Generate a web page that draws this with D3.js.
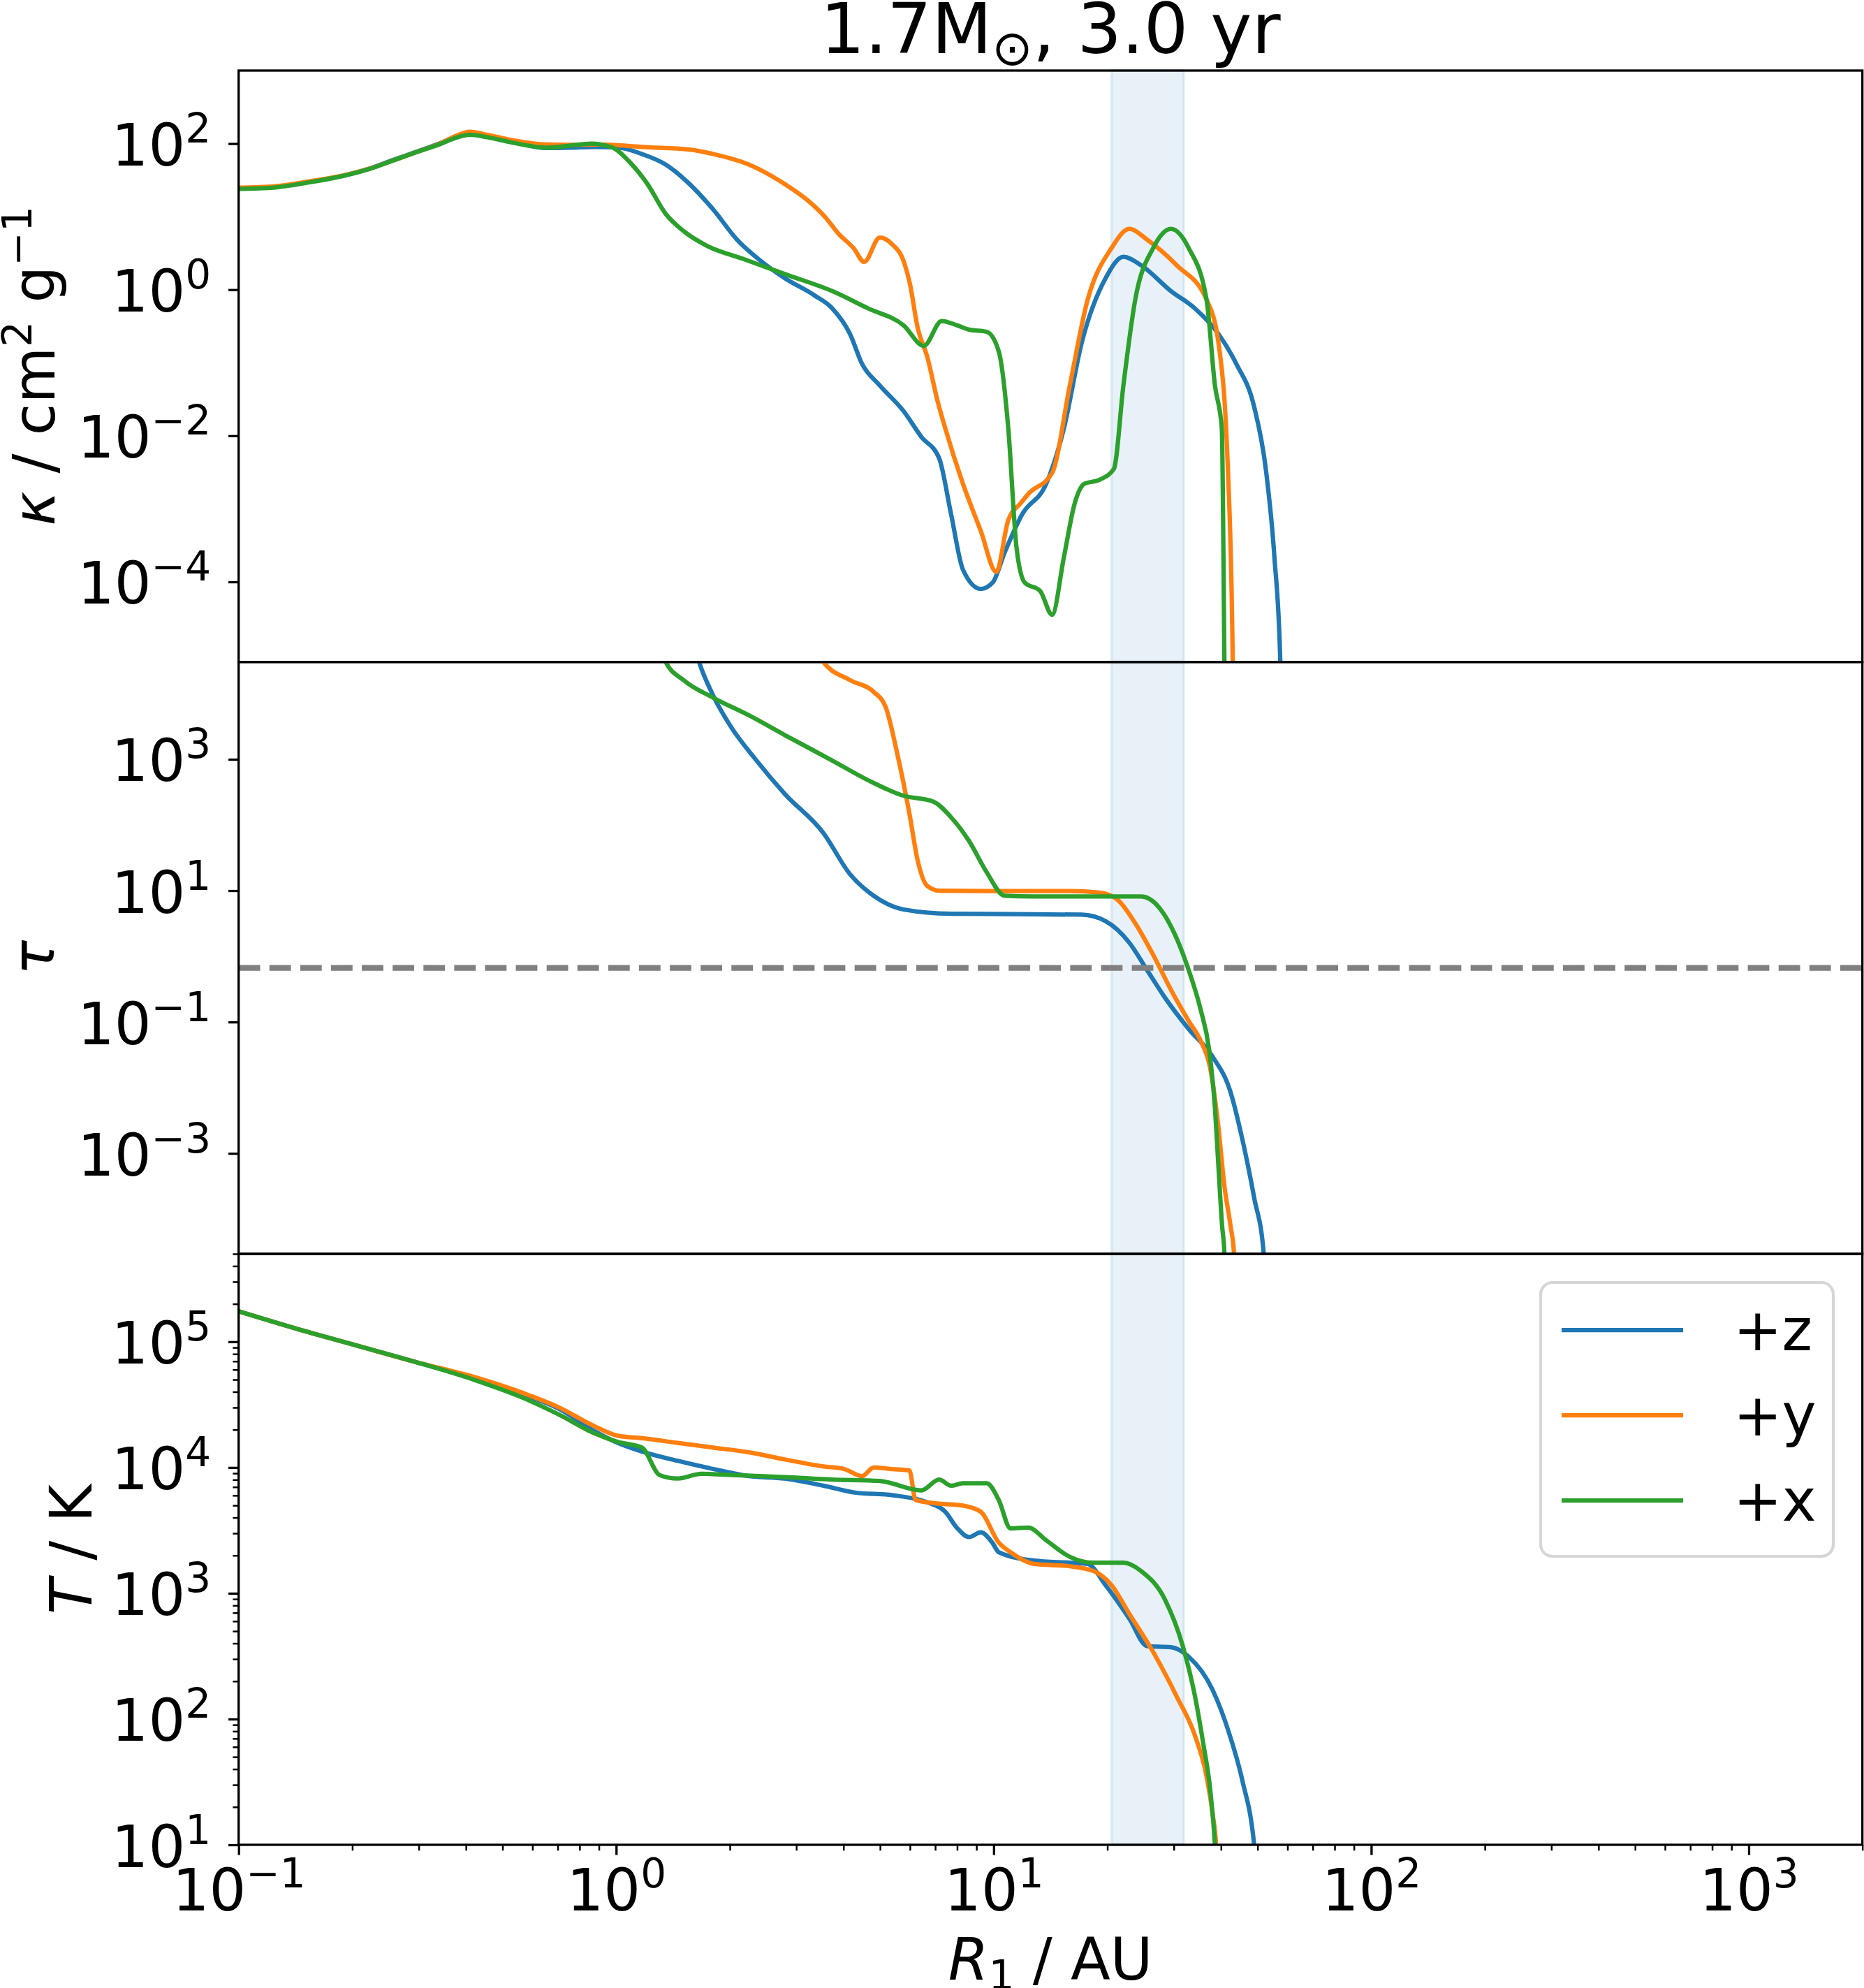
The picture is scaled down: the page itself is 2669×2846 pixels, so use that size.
<!DOCTYPE html>
<html>
<head>
<meta charset="utf-8">
<script src="https://cdn.jsdelivr.net/npm/d3@7"></script>
<style>
  body { margin: 0; background: #fff; }
  svg text { font-family: "DejaVu Sans", sans-serif; fill: #000; }
</style>
</head>
<body>
<svg id="chart" width="2669" height="2846"></svg>
<script>
// ---- data: [R (AU), value] ----
const seriesNames = ["+z", "+y", "+x"];
const seriesColors = ["#1f77b4", "#ff7f0e", "#2ca02c"];

// opacity kappa
const kapZ = [[0.1,24.5],[0.124,25.5],[0.154,30],[0.191,36.8],[0.221,45],[0.255,59],[0.295,77],[0.341,101],[0.38,127],[0.409,136],[0.456,125],[0.527,106],[0.655,87],[0.758,88],[0.876,90],[1.01,88.5],[1.17,72],[1.353,51.6],[1.564,28],[1.808,12.5],[2.09,4.84],[2.417,2.47],[2.794,1.44],[3.35,0.837],[3.734,0.557],[4.163,0.248],[4.48,0.0964],[4.99,0.049],[5.77,0.0218],[6.43,0.00968],[7.17,0.00492],[7.71,0.00085],[8.29,1.47e-4],[9.24,8.0e-5],[9.94,9.8e-5],[10.69,2.52e-4],[11.91,8.5e-4],[13.77,0.00219],[15.35,0.0127],[17.11,0.189],[19.79,1.44],[22.06,2.82],[24.59,2.15],[29.48,0.957],[34.07,0.557],[39.38,0.248],[43.92,0.0964],[48.97,0.0249],[52.66,0.00328],[55.4,2.2e-4],[57.44,8e-6],[58,1e-6]];
const kapY = [[0.1,25],[0.124,26],[0.154,30.5],[0.191,37],[0.221,45],[0.255,58],[0.295,76],[0.341,100],[0.38,130],[0.409,145],[0.456,132],[0.527,112],[0.655,97],[0.758,96],[0.876,97],[1.01,95],[1.17,90],[1.564,83],[1.808,72],[2.248,51.6],[2.794,28],[3.23,16.4],[3.6,9.5],[3.87,5.93],[4.256,3.7],[4.54,2.4],[4.99,5.18],[5.37,4.23],[5.8,2.3],[6.0,1.2],[6.29,0.3],[6.67,0.12],[7.1,0.03],[7.44,0.0127],[8.29,0.0022],[9.24,5e-4],[10.16,1.37e-4],[10.93,7e-4],[11.8,0.0012],[12.35,0.0016],[14.28,0.0031],[15.91,0.049],[17.74,0.731],[20.51,3.7],[22.87,6.8],[25.5,4.84],[30.57,2.15],[36.63,0.731],[39.38,0.189],[41.74,0.00328],[42.97,8e-6],[43.1,1e-6]];
const kapX = [[0.1,24],[0.124,25],[0.154,29.5],[0.191,36.5],[0.221,44.5],[0.255,58],[0.295,76],[0.341,98],[0.38,122],[0.409,132],[0.456,122],[0.527,104],[0.655,88],[0.758,94],[0.857,100],[0.976,88.5],[1.089,55],[1.21,28],[1.353,10.9],[1.508,6.35],[1.744,3.96],[2.17,2.64],[2.794,1.64],[3.734,0.957],[4.64,0.557],[5.77,0.325],[6.53,0.17],[7.28,0.372],[8.0,0.325],[8.6,0.284],[9.58,0.265],[10.31,0.144],[10.93,0.0127],[11.49,3e-4],[12.08,9.8e-5],[13.28,7.5e-5],[14.28,3.55e-5],[15.35,2.2e-4],[16.4,0.0012],[17.36,0.00219],[19.08,0.0025],[20.81,0.00351],[22.06,0.049],[23.71,0.731],[26.44,3.7],[29.48,6.8],[32.86,3.7],[36.63,0.731],[38.55,0.049],[40.2,0.0127],[40.84,8e-6],[41.0,1e-6]];

// optical depth tau
const tauZ = [[1.6,6e4],[1.658,30270],[1.808,9270],[2.016,3090],[2.33,1028],[2.794,299],[3.54,75.4],[4.163,17.8],[4.81,8.36],[5.77,5.17],[7.71,4.45],[11.08,4.4],[17.11,4.3],[19.79,3.42],[22.87,1.61],[25.5,0.614],[28.43,0.234],[32.86,0.0781],[37.99,0.0298],[42.37,0.00866],[45.54,0.00166],[48.97,2.11e-4],[51.9,3e-5],[52.5,1e-6]];
const tauY = [[3.4,6e4],[3.54,30300],[4.163,16070],[4.81,10640],[5.18,6140],[5.56,1180],[5.98,150],[6.29,28.8],[6.67,11.8],[7.17,10],[9.58,9.86],[15.91,9.86],[19.08,9.33],[21.28,7.29],[23.71,3.19],[26.44,1.06],[29.48,0.309],[32.86,0.1028],[35.33,0.0517],[37.45,0.0198],[39.38,0.00251],[40.84,3.19e-4],[42.37,8.07e-5],[43.3,3e-5],[43.6,1e-6]];
const tauX = [[1.3,6e4],[1.353,30270],[1.508,16070],[1.808,8650],[2.248,4665],[2.794,2346],[3.734,960],[4.64,483],[5.77,279],[6.92,227],[7.71,131],[8.6,57.3],[9.58,19.1],[10.69,8.36],[12.82,8.13],[18.4,8.13],[24.59,8.13],[27.42,5.54],[30.57,1.84],[32.86,0.614],[35.33,0.155],[37.17,0.0393],[38.55,0.005],[39.38,6.35e-4],[40.26,8.07e-5],[40.84,3e-5],[41,1e-6]];
const tauSurface = 2 / 3;

// temperature
const tempZ = [[0.1,174600],[0.143,126400],[0.2055,93300],[0.295,68900],[0.424,50800],[0.567,38100],[0.705,29300],[0.876,19500],[1.01,15700],[1.17,13400],[1.455,11300],[1.808,9730],[2.248,8540],[2.794,8170],[3.54,7170],[4.316,6300],[5.37,6030],[6.67,5290],[7.44,4450],[8.0,3300],[8.6,2800],[9.24,3050],[9.94,2500],[10.31,2120],[12.82,1820],[15.91,1750],[17.74,1710],[19.79,1160],[22.87,629],[25.5,380],[29.48,373],[32.86,313],[37.99,171],[42.37,71.5],[45.54,32.7],[48.97,10],[50,5]];
const tempY = [[0.1,174600],[0.143,126400],[0.2055,93300],[0.295,68900],[0.424,52100],[0.567,39100],[0.705,30100],[0.876,21300],[1.01,17900],[1.17,17100],[1.455,15700],[1.808,14400],[2.248,13200],[2.794,11600],[3.54,10200],[4.015,9730],[4.48,8540],[4.81,10000],[5.37,9730],[5.98,9480],[6.21,5530],[7.17,5160],[8.29,4980],[9.24,4450],[10.31,2530],[11.08,2120],[12.82,1710],[15.91,1640],[18.4,1500],[20.51,1160],[22.87,686],[26.44,342],[30.57,150],[34.07,75],[36.63,35],[37.99,17.8],[38.83,10],[39.3,5]];
const tempX = [[0.1,174600],[0.143,126400],[0.2055,93300],[0.295,68900],[0.424,49400],[0.567,35800],[0.705,26400],[0.876,18700],[1.01,15960],[1.17,14400],[1.305,8690],[1.455,8170],[1.682,8920],[2.09,8690],[2.794,8390],[3.734,8030],[4.99,7820],[6.43,6580],[7.17,8030],[7.71,7170],[8.29,7490],[9.58,7490],[10.31,5530],[11.08,3280],[12.35,3330],[13.77,2640],[15.91,1950],[18.4,1750],[22.06,1750],[24.59,1500],[28.43,890],[31.69,380],[34.07,156],[35.85,65.4],[37.45,27.5],[38.55,10],[39,5]];

// shaded photosphere band (AU)
const band = [20.5, 31.9];

// axis ticks
const xMajor = [0.1, 1, 10, 100, 1000];
const kapTicks = [1e2, 1, 1e-2, 1e-4];
const tauTicks = [1e3, 10, 1e-1, 1e-3];
const tempTicks = [1e5, 1e4, 1e3, 1e2, 10];

// ---- layout ----
const svg = d3.select("#chart");
const axL = 341.7, axR = 2666.7;
const FS = 83, SUP = 58;

const x = d3.scaleLog().domain([0.1, 2000]).range([axL, axR]);

const panels = [
  {top: 101, bottom: 947.7, domain: [8e-6, 1e3], ticks: kapTicks, minor: false, data: [kapZ, kapY, kapX]},
  {top: 947.7, bottom: 1795, domain: [2.95e-5, 3.03e4], ticks: tauTicks, minor: false, data: [tauZ, tauY, tauX]},
  {top: 1795, bottom: 2641, domain: [10, 5e5], ticks: tempTicks, minor: true, data: [tempZ, tempY, tempX]}
];

function expLabel(sel, v) {
  const e = Math.round(Math.log10(v));
  sel.text(null);
  sel.append("tspan").text("10");
  sel.append("tspan").attr("font-size", SUP).attr("dy", -33)
    .text(e < 0 ? "\u2212" + (-e) : String(e));
}

function minorVals(lo, hi) {
  const out = [];
  for (let p = Math.floor(Math.log10(lo)); p <= Math.ceil(Math.log10(hi)); p++) {
    for (let m = 2; m <= 9; m++) {
      const v = m * Math.pow(10, p);
      if (v >= lo * 0.999 && v <= hi * 1.001) out.push(v);
    }
  }
  return out;
}

panels.forEach(function(p, i) {
  const y = d3.scaleLog().domain(p.domain).range([p.bottom, p.top]);
  const g = svg.append("g");
  const clipId = "clip" + i;
  svg.append("clipPath").attr("id", clipId)
    .append("rect").attr("x", axL).attr("y", p.top)
    .attr("width", axR - axL).attr("height", p.bottom - p.top);

  // band
  g.append("rect")
    .attr("x", x(band[0])).attr("y", p.top)
    .attr("width", x(band[1]) - x(band[0])).attr("height", p.bottom - p.top)
    .attr("fill", "#1f77b4").attr("fill-opacity", 0.1)
    .attr("stroke", "#1f77b4").attr("stroke-opacity", 0.1).attr("stroke-width", 4);

  const line = d3.line()
    .x(function(d) { return x(d[0]); })
    .y(function(d) { return y(d[1]); })
    .curve(d3.curveMonotoneX);

  const lines = g.append("g").attr("clip-path", "url(#" + clipId + ")");
  p.data.forEach(function(s, k) {
    lines.append("path")
      .datum(s)
      .attr("d", line)
      .attr("fill", "none")
      .attr("stroke", seriesColors[k])
      .attr("stroke-width", 6.25)
      .attr("stroke-linejoin", "round")
      .attr("stroke-linecap", "butt");
  });

  if (i === 1) {
    lines.append("line")
      .attr("x1", axL).attr("x2", axR)
      .attr("y1", y(tauSurface)).attr("y2", y(tauSurface))
      .attr("stroke", "#808080").attr("stroke-width", 8.3)
      .attr("stroke-dasharray", "30.8,13.3");
  }

  // y axis, major
  const yAx = g.append("g").attr("transform", "translate(" + axL + ",0)")
    .call(d3.axisLeft(y).tickValues(p.ticks).tickSize(14.6).tickPadding(25));
  yAx.select(".domain").remove();
  yAx.selectAll(".tick line").attr("stroke", "#000").attr("stroke-width", 3.3);
  yAx.selectAll(".tick text")
    .attr("font-size", FS).attr("font-family", "DejaVu Sans").attr("dy", 31)
    .each(function(d) { expLabel(d3.select(this), d); });

  if (p.minor) {
    const yMin = g.append("g").attr("transform", "translate(" + axL + ",0)")
      .call(d3.axisLeft(y).tickValues(minorVals(p.domain[0], p.domain[1])).tickSize(8.3).tickFormat(""));
    yMin.select(".domain").remove();
    yMin.selectAll(".tick line").attr("stroke", "#000").attr("stroke-width", 2.5);
  }

  // bottom x axis only on the last panel
  if (i === panels.length - 1) {
    const xAx = g.append("g").attr("transform", "translate(0," + p.bottom + ")")
      .call(d3.axisBottom(x).tickValues(xMajor).tickSize(14.6));
    xAx.select(".domain").remove();
    xAx.selectAll(".tick line").attr("stroke", "#000").attr("stroke-width", 3.3);
    xAx.selectAll(".tick text")
      .attr("font-size", FS).attr("font-family", "DejaVu Sans")
      .attr("y", 94).attr("dy", 0)
      .each(function(d) { expLabel(d3.select(this), d); });

    const xMin = g.append("g").attr("transform", "translate(0," + p.bottom + ")")
      .call(d3.axisBottom(x).tickValues(minorVals(0.1, 2000)).tickSize(8.3).tickFormat(""));
    xMin.select(".domain").remove();
    xMin.selectAll(".tick line").attr("stroke", "#000").attr("stroke-width", 2.5);
  }

  // frame
  g.append("rect")
    .attr("x", axL).attr("y", p.top)
    .attr("width", axR - axL).attr("height", p.bottom - p.top)
    .attr("fill", "none").attr("stroke", "#000").attr("stroke-width", 3.3);

  p.yScale = y;
});

// ---- axis labels ----
const kapLab = svg.append("text").attr("font-size", FS)
  .attr("text-anchor", "middle")
  .attr("transform", "translate(78,524) rotate(-90)");
kapLab.append("tspan").attr("font-style", "italic").text("\u03ba");
kapLab.append("tspan").text(" / cm");
kapLab.append("tspan").attr("font-size", SUP).attr("dy", -33).text("2");
kapLab.append("tspan").attr("dy", 33).text(" g");
kapLab.append("tspan").attr("font-size", SUP).attr("dy", -33).text("\u22121");

svg.append("text").attr("font-size", FS).attr("text-anchor", "middle")
  .attr("font-style", "italic")
  .attr("transform", "translate(77,1371) rotate(-90)")
  .text("\u03c4");

const tLab = svg.append("text").attr("font-size", FS)
  .attr("text-anchor", "middle")
  .attr("transform", "translate(131,2218) rotate(-90)");
tLab.append("tspan").attr("font-style", "italic").text("T");
tLab.append("tspan").text(" / K");

const rLab = svg.append("text").attr("font-size", FS)
  .attr("text-anchor", "middle")
  .attr("x", (axL + axR) / 2).attr("y", 2834);
rLab.append("tspan").attr("font-style", "italic").text("R");
rLab.append("tspan").attr("font-size", SUP).attr("dy", 14).text("1");
rLab.append("tspan").attr("dy", -14).text(" / AU");

// title
const title = svg.append("text").attr("font-size", 100)
  .attr("text-anchor", "middle")
  .attr("x", (axL + axR) / 2).attr("y", 76);
title.append("tspan").text("1.7M");
title.append("tspan").attr("font-size", 70).attr("dy", 17).text("\u2299");
title.append("tspan").attr("dy", -17).text(", 3.0 yr");

// ---- legend ----
const leg = svg.append("g");
leg.append("rect")
  .attr("x", 2206).attr("y", 1836).attr("width", 419).attr("height", 392)
  .attr("rx", 17).attr("ry", 17)
  .attr("fill", "#fff").attr("fill-opacity", 0.8)
  .attr("stroke", "#d6d6d6").attr("stroke-width", 4.2);
seriesNames.forEach(function(name, k) {
  const ly = 1904 + k * 122;
  leg.append("line")
    .attr("x1", 2236).attr("x2", 2410).attr("y1", ly).attr("y2", ly)
    .attr("stroke", seriesColors[k]).attr("stroke-width", 6.25);
  leg.append("text").attr("font-size", FS)
    .attr("x", 2482).attr("y", ly + 29).text(name);
});
</script>
</body>
</html>
